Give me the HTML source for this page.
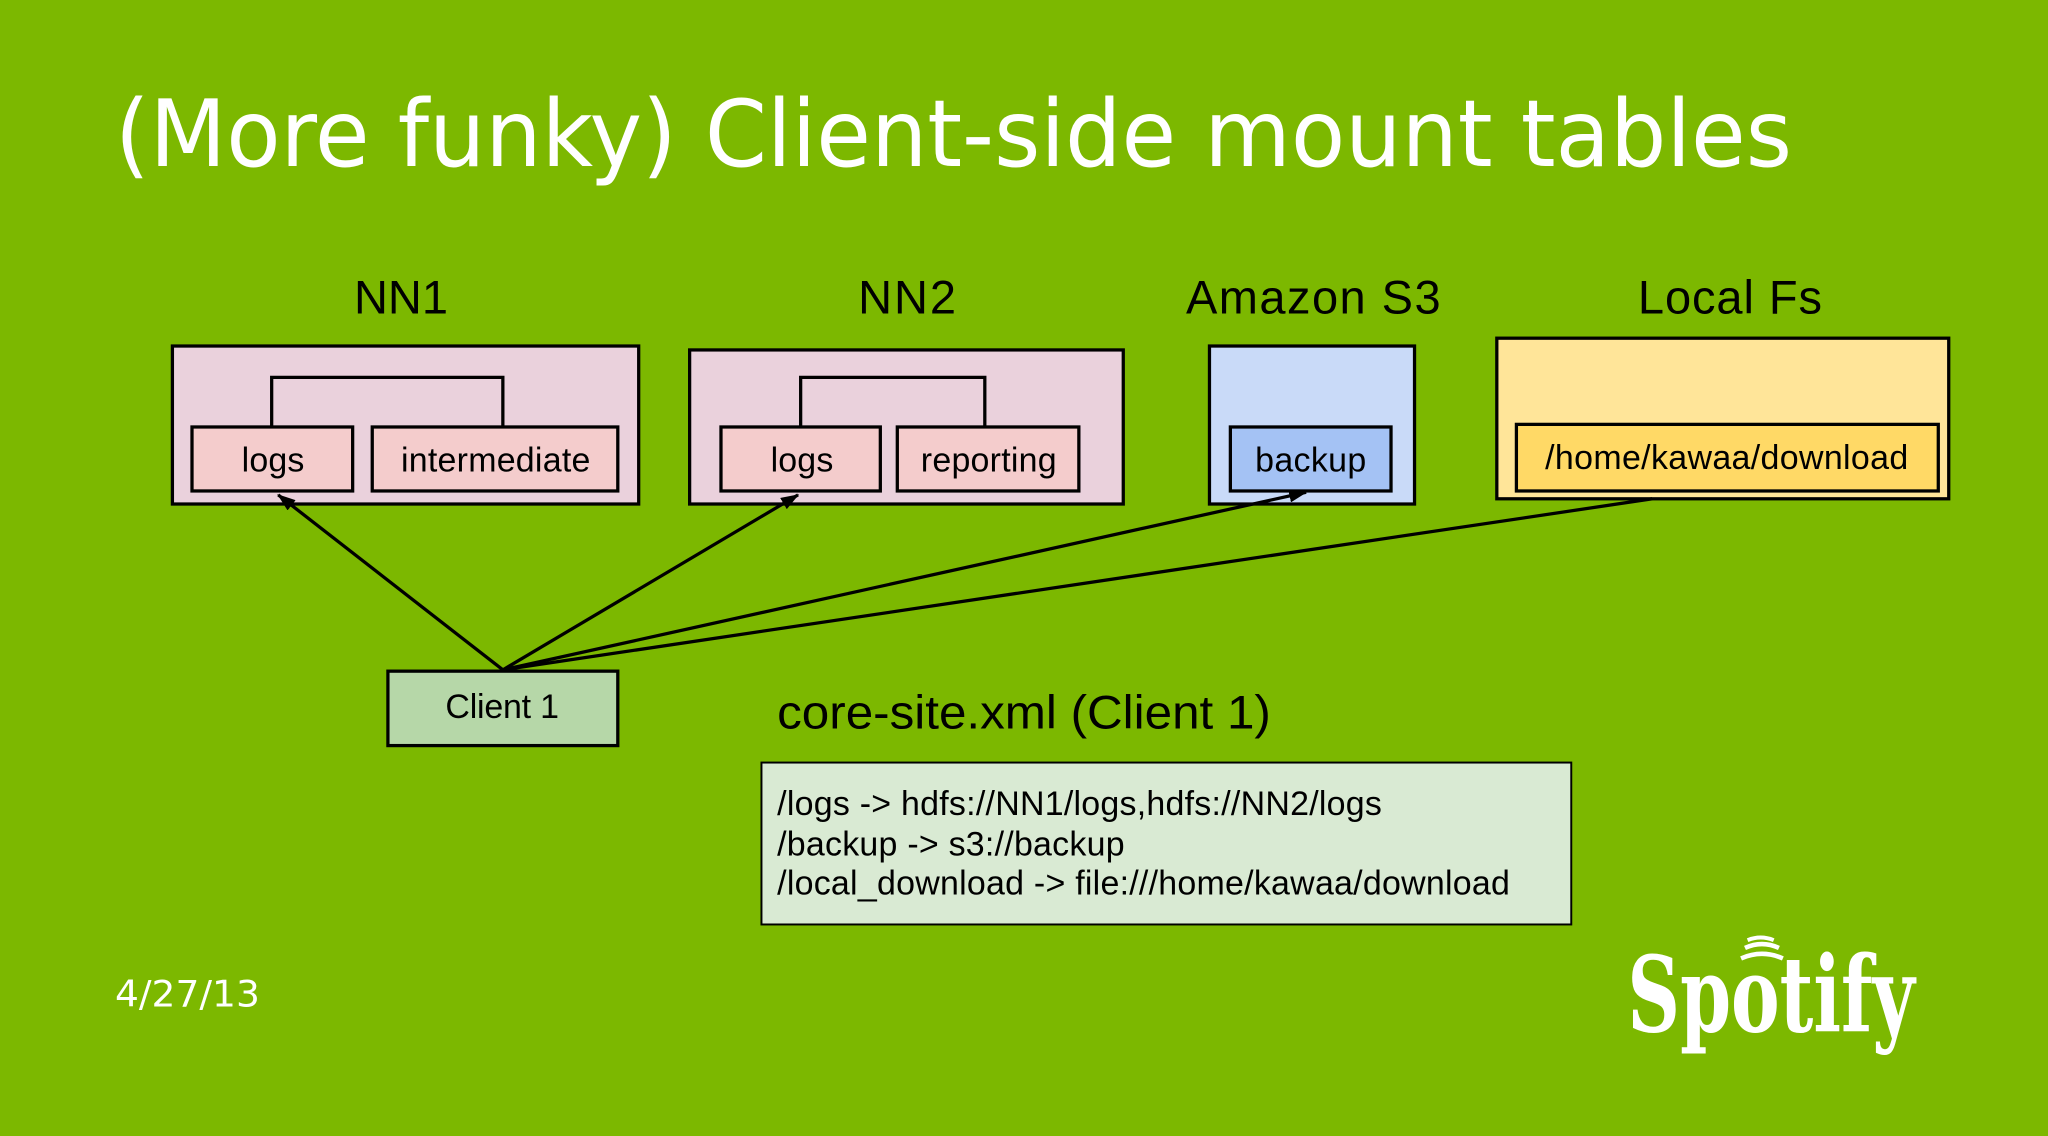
<!DOCTYPE html>
<html><head><meta charset="utf-8"><style>
html,body{margin:0;padding:0;background:#7cb800;}
svg{display:block}
text{font-family:"Liberation Sans",sans-serif}
</style></head><body>
<svg width="2048" height="1136" viewBox="0 0 1568 870" preserveAspectRatio="none" xmlns="http://www.w3.org/2000/svg">
<defs><marker id="ah" markerWidth="14" markerHeight="10" refX="13" refY="5" orient="auto" markerUnits="userSpaceOnUse"><path d="M0,0 L14,5 L0,10 z" fill="#000"/></marker></defs>
<rect width="1568" height="870" fill="#7cb800"/>
<text x="88" y="127" font-size="71" fill="#fff" textLength="1284" lengthAdjust="spacingAndGlyphs" style="font-family:'DejaVu Sans Condensed','DejaVu Sans',sans-serif">(More funky) Client-side mount tables</text>

<g font-size="36" fill="#000" lengthAdjust="spacingAndGlyphs">
<text x="271" y="240" textLength="72">NN1</text>
<text x="657" y="240" textLength="75">NN2</text>
<text x="908" y="240" textLength="195">Amazon S3</text>
<text x="1254" y="240" textLength="141">Local Fs</text>
</g>

<g stroke="#000" stroke-width="2.5">
<rect x="132" y="265" width="357" height="121" fill="#ead1dc"/>
<polyline points="208,327 208,289 385,289 385,327" fill="none"/>
<rect x="147" y="327" width="123" height="49" fill="#f4cccc"/>
<rect x="285" y="327" width="188" height="49" fill="#f4cccc"/>
<rect x="528" y="268" width="332" height="118" fill="#ead1dc"/>
<polyline points="613,327 613,289 754,289 754,327" fill="none"/>
<rect x="552" y="327" width="122" height="49" fill="#f4cccc"/>
<rect x="687" y="327" width="139" height="49" fill="#f4cccc"/>
<rect x="926" y="265" width="157" height="121" fill="#c9daf8"/>
<rect x="942" y="327" width="123" height="49" fill="#a4c2f4"/>
<rect x="1146" y="259" width="346" height="123" fill="#ffe599"/>
<rect x="1161" y="325" width="323" height="51" fill="#ffd966"/>
<rect x="297" y="514" width="176" height="57" fill="#b6d7a8"/>
<rect x="583" y="584" width="620" height="124" fill="#d9ead3" stroke-width="1.5"/>
</g>

<g font-size="26" fill="#000" lengthAdjust="spacingAndGlyphs">
<text x="185" y="361" textLength="48">logs</text>
<text x="307" y="361" textLength="145">intermediate</text>
<text x="590" y="361" textLength="48">logs</text>
<text x="705" y="361" textLength="104">reporting</text>
<text x="961" y="361" textLength="85">backup</text>
<text x="1183" y="359" textLength="278">/home/kawaa/download</text>
<text x="341" y="550" textLength="87">Client 1</text>
</g>

<g stroke="#000" stroke-width="2.5" fill="none">
<line x1="385" y1="513" x2="213" y2="379" marker-end="url(#ah)"/>
<line x1="385" y1="513" x2="611" y2="379" marker-end="url(#ah)"/>
<line x1="385" y1="513" x2="1000" y2="377" marker-end="url(#ah)"/>
<line x1="385" y1="513" x2="1265" y2="382"/>
</g>

<text x="595" y="558" font-size="36" fill="#000" textLength="378" lengthAdjust="spacingAndGlyphs">core-site.xml (Client 1)</text>
<g font-size="26" fill="#000" lengthAdjust="spacingAndGlyphs">
<text x="595" y="624" textLength="463">/logs -&gt; hdfs://NN1/logs,hdfs://NN2/logs</text>
<text x="595" y="655" textLength="266">/backup -&gt; s3://backup</text>
<text x="595" y="685" textLength="561">/local_download -&gt; file:///home/kawaa/download</text>
</g>

<text x="88" y="771" font-size="28" fill="#fff" style="font-family:'DejaVu Sans',sans-serif" textLength="111" lengthAdjust="spacingAndGlyphs">4/27/13</text>

<g fill="#fff">
<text x="1246" y="790" font-size="80" font-weight="bold" style="font-family:'DejaVu Serif','Liberation Serif',serif" textLength="220" lengthAdjust="spacingAndGlyphs">Spotify</text>
<path d="M1336,726 q13,-6 26,0" stroke="#fff" stroke-width="3.5" fill="none"/>
<path d="M1333,734 q16,-7 32,0" stroke="#fff" stroke-width="3.5" fill="none"/>
<path d="M1338,720 q10,-4 20,0" stroke="#fff" stroke-width="3" fill="none"/>
</g>
</svg>
</body></html>
